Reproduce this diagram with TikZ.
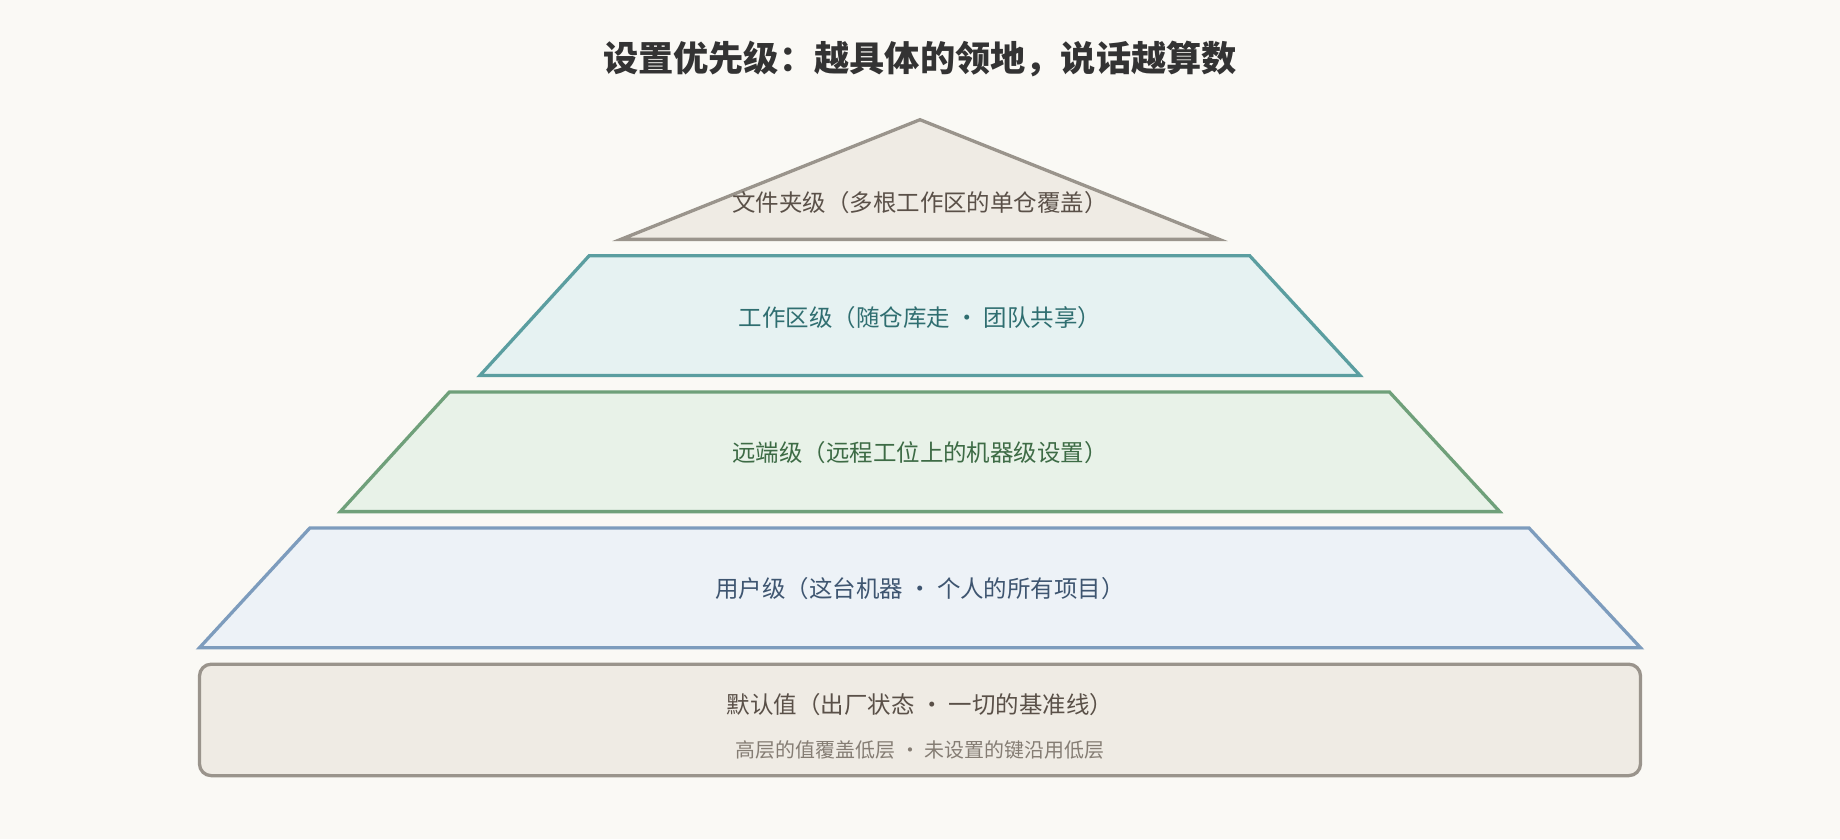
\documentclass[tikz,border=0pt]{standalone}
\usepackage{fontspec}
\setmainfont{Noto Sans CJK SC}
\begin{document}
\begin{tikzpicture}[x=0.5pt,y=-0.5pt,
  lay/.style={line width=1.4pt,line join=miter},
  lbl/.style={font=\fontsize{10}{12}\selectfont,anchor=center}]
\definecolor{bg}{HTML}{FAF9F5}
\definecolor{gstroke}{HTML}{9A948C}\definecolor{gfill}{HTML}{EFEBE4}
\definecolor{tstroke}{HTML}{5B9EA0}\definecolor{tfill}{HTML}{E6F2F2}\definecolor{ttext}{HTML}{2F6E70}
\definecolor{estroke}{HTML}{6FA07A}\definecolor{efill}{HTML}{E8F2E8}\definecolor{etext}{HTML}{3D6B45}
\definecolor{bstroke}{HTML}{7D9CBD}\definecolor{bfill}{HTML}{EDF2F7}\definecolor{btext}{HTML}{3E5570}
\definecolor{dtext}{HTML}{5A5048}\definecolor{stext}{HTML}{857D74}
\fill[bg] (0,0) rectangle (1568,715);
\useasboundingbox (0,0) rectangle (1568,715);
\node[font=\fontsize{15}{18}\selectfont\bfseries,text=black!80] (title) at (784,50) {设置优先级：越具体的领地，说话越算数};
\draw[lay,draw=gstroke,fill=gfill] (784,102) -- (1039,204) -- (529,204) -- cycle;
\node[lbl,text=dtext] (t1) at (784,173) {文件夹级（多根工作区的单仓覆盖）};
\draw[lay,draw=tstroke,fill=tfill] (502,218) -- (1065,218) -- (1159,320) -- (409,320) -- cycle;
\node[lbl,text=ttext] (t2) at (784,271) {工作区级（随仓库走 · 团队共享）};
\draw[lay,draw=estroke,fill=efill] (383,334) -- (1184,334) -- (1278,436) -- (290,436) -- cycle;
\node[lbl,text=etext] (t3) at (784,386) {远端级（远程工位上的机器级设置）};
\draw[lay,draw=bstroke,fill=bfill] (264,450) -- (1303,450) -- (1398,552) -- (170,552) -- cycle;
\node[lbl,text=btext] (t4) at (784,502) {用户级（这台机器 · 个人的所有项目）};
\draw[lay,draw=gstroke,fill=gfill,rounded corners=5pt] (170,566) rectangle (1398,661);
\node[lbl,text=dtext] (t5) at (784,600) {默认值（出厂状态 · 一切的基准线）};
\node[font=\fontsize{8.5}{10}\selectfont,text=stext] (t6) at (784,639) {高层的值覆盖低层 · 未设置的键沿用低层};
\end{tikzpicture}
\end{document}
